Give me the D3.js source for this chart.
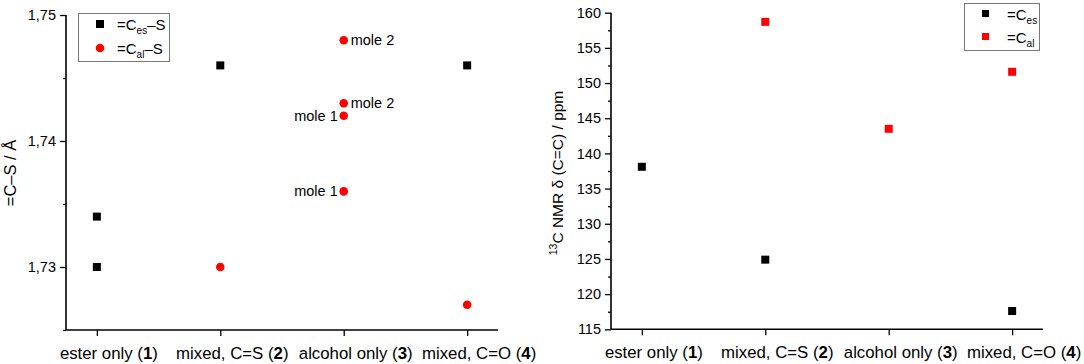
<!DOCTYPE html>
<html><head><meta charset="utf-8">
<script src="https://cdn.jsdelivr.net/npm/d3@7"></script>
<style>
body{margin:0;background:#fff;}
text{font-family:"Liberation Sans",Arial,sans-serif;fill:#000;}
</style></head>
<body><svg id="c" width="1084" height="364"></svg>
<script>
// ---- data ----
const categories = ["ester only", "mixed, C=S", "alcohol only", "mixed, C=O"];
const categoryNums = ["1", "2", "3", "4"];
// left panel: =C–S bond lengths (Å); category index 1..4
const leftEsCat = [1, 1, 2, 4];
const leftEsVal = [1.734, 1.730, 1.746, 1.746];
const leftAlCat = [2, 3, 3, 3, 3, 4];
const leftAlVal = [1.730, 1.748, 1.743, 1.742, 1.736, 1.727];
const leftAlNote = ["", "mole 2", "mole 2", "mole 1", "mole 1", ""];
const leftAlNoteSide = ["", "right", "right", "left", "left", ""];
const leftYTicks = [1.73, 1.74, 1.75];
const leftYMinor = [1.725, 1.735, 1.745];
// right panel: 13C NMR shifts (ppm)
const rightEsCat = [1, 2, 4];
const rightEsVal = [138.1, 124.9, 117.6];
const rightAlCat = [2, 3, 4];
const rightAlVal = [158.7, 143.5, 151.6];
const rightYTicks = [115, 120, 125, 130, 135, 140, 145, 150, 155, 160];
const rightYMinor = [117.5, 122.5, 127.5, 132.5, 137.5, 142.5, 147.5, 152.5, 157.5];

const svg = d3.select("#c");
const RED = "#ff0000";
const FONT = '"Liberation Sans",Arial,sans-serif';

function panel(opt) {
  const g = svg.append("g");
  const x = d3.scaleLinear().domain([0.75, 4.25]).range([opt.x0, opt.x1]);
  const y = d3.scaleLinear().domain(opt.yDomain).range([opt.yBottom, opt.yTop]);
  // y axis
  const ya = g.append("g").attr("transform", `translate(${opt.x0},0)`)
    .call(d3.axisLeft(y).tickValues(opt.yTicks).tickSize(6).tickPadding(4).tickFormat(opt.fmt));
  ya.select(".domain").attr("stroke-width", 1.6).attr("d", `M0,${opt.yBottom}V${opt.yTop}`);
  ya.selectAll(".tick line").attr("stroke-width", 1.3);
  ya.selectAll(".tick text").style("font-size", "14.5px").style("font-family", FONT);
  g.append("g").attr("transform", `translate(${opt.x0},0)`)
    .call(d3.axisLeft(y).tickValues(opt.yMinor).tickSize(3).tickFormat(""))
    .call(s => s.select(".domain").remove())
    .selectAll("line").attr("stroke-width", 1.3);
  // x axis
  const xa = g.append("g").attr("transform", `translate(0,${opt.yBottom})`)
    .call(d3.axisBottom(x).tickValues([1, 2, 3, 4]).tickSize(6).tickFormat(""));
  xa.select(".domain").attr("stroke-width", 1.6).attr("d", `M${opt.x0},0H${opt.x1}`);
  xa.selectAll(".tick line").attr("stroke-width", 1.3);
  categories.forEach((c, i) => {
    const t = g.append("text").attr("x", x(i + 1) + 12).attr("y", opt.yBottom + 29)
      .attr("text-anchor", "middle").style("font-size", "16.8px");
    t.append("tspan").text(c + " (");
    t.append("tspan").attr("font-weight", "bold").text(categoryNums[i]);
    t.append("tspan").text(")");
  });
  return {g, x, y};
}

// ---------- left panel ----------
const L = panel({x0: 66, x1: 498, yTop: 15, yBottom: 330, yDomain: [1.725, 1.75],
  yTicks: leftYTicks, yMinor: leftYMinor, fmt: d => d3.format(".2f")(d).replace(".", ",")});
L.g.selectAll("rect.es").data(leftEsVal).join("rect")
  .attr("x", (d, i) => L.x(leftEsCat[i]) - 4).attr("y", d => L.y(d) - 4)
  .attr("width", 8).attr("height", 8).attr("fill", "#000");
L.g.selectAll("circle.al").data(leftAlVal).join("circle")
  .attr("cx", (d, i) => L.x(leftAlCat[i])).attr("cy", d => L.y(d)).attr("r", 4.3).attr("fill", RED);
leftAlVal.forEach((d, i) => {
  if (!leftAlNote[i]) return;
  const right = leftAlNoteSide[i] === "right";
  L.g.append("text")
    .attr("x", L.x(leftAlCat[i]) + (right ? 7 : -6))
    .attr("y", L.y(d) + 5)
    .attr("text-anchor", right ? "start" : "end")
    .style("font-size", "14.5px")
    .text(leftAlNote[i]);
});
// y label
L.g.append("text").attr("transform", "translate(16,173) rotate(-90)").attr("text-anchor", "middle")
  .style("font-size", "16.5px").text("=C–S / Å");
// legend
L.g.append("rect").attr("x", 78.5).attr("y", 13.5).attr("width", 91).attr("height", 48)
  .attr("fill", "#fff").attr("stroke", "#777").attr("stroke-width", 1);
L.g.append("rect").attr("x", 96).attr("y", 20).attr("width", 8).attr("height", 8).attr("fill", "#000");
L.g.append("circle").attr("cx", 100).attr("cy", 48).attr("r", 4.3).attr("fill", RED);
function legText(g, x, y, sub, tail) {
  const t = g.append("text").attr("x", x).attr("y", y).style("font-size", "15px");
  t.append("tspan").text("=C");
  t.append("tspan").attr("dy", 4).style("font-size", "10px").text(sub);
  t.append("tspan").attr("dy", -4).text(tail);
}
legText(L.g, 117, 30, "es", "–S");
legText(L.g, 117, 54, "al", "–S");

// ---------- right panel ----------
const R = panel({x0: 611, x1: 1043, yTop: 12.7, yBottom: 329.3, yDomain: [115, 160],
  yTicks: rightYTicks, yMinor: rightYMinor, fmt: d3.format("d")});
R.g.selectAll("rect.es").data(rightEsVal).join("rect")
  .attr("x", (d, i) => R.x(rightEsCat[i]) - 4).attr("y", d => R.y(d) - 4)
  .attr("width", 8).attr("height", 8).attr("fill", "#000");
R.g.selectAll("rect.al").data(rightAlVal).join("rect")
  .attr("x", (d, i) => R.x(rightAlCat[i]) - 4).attr("y", d => R.y(d) - 4)
  .attr("width", 8).attr("height", 8).attr("fill", RED);
const ylab = R.g.append("text").attr("transform", "translate(563,173) rotate(-90)").attr("text-anchor", "middle")
  .style("font-size", "15.5px");
ylab.append("tspan").attr("dy", -6).style("font-size", "10.5px").text("13");
ylab.append("tspan").attr("dy", 6).text("C NMR δ (C=C) / ppm");
// legend
R.g.append("rect").attr("x", 964.5).attr("y", 3.5).attr("width", 75).attr("height", 47)
  .attr("fill", "#fff").attr("stroke", "#777").attr("stroke-width", 1);
R.g.append("rect").attr("x", 982).attr("y", 10).attr("width", 7).attr("height", 7).attr("fill", "#000");
R.g.append("rect").attr("x", 982).attr("y", 33).attr("width", 7).attr("height", 7).attr("fill", RED);
legText(R.g, 1007, 20, "es", "");
legText(R.g, 1007, 43, "al", "");
</script></body></html>
